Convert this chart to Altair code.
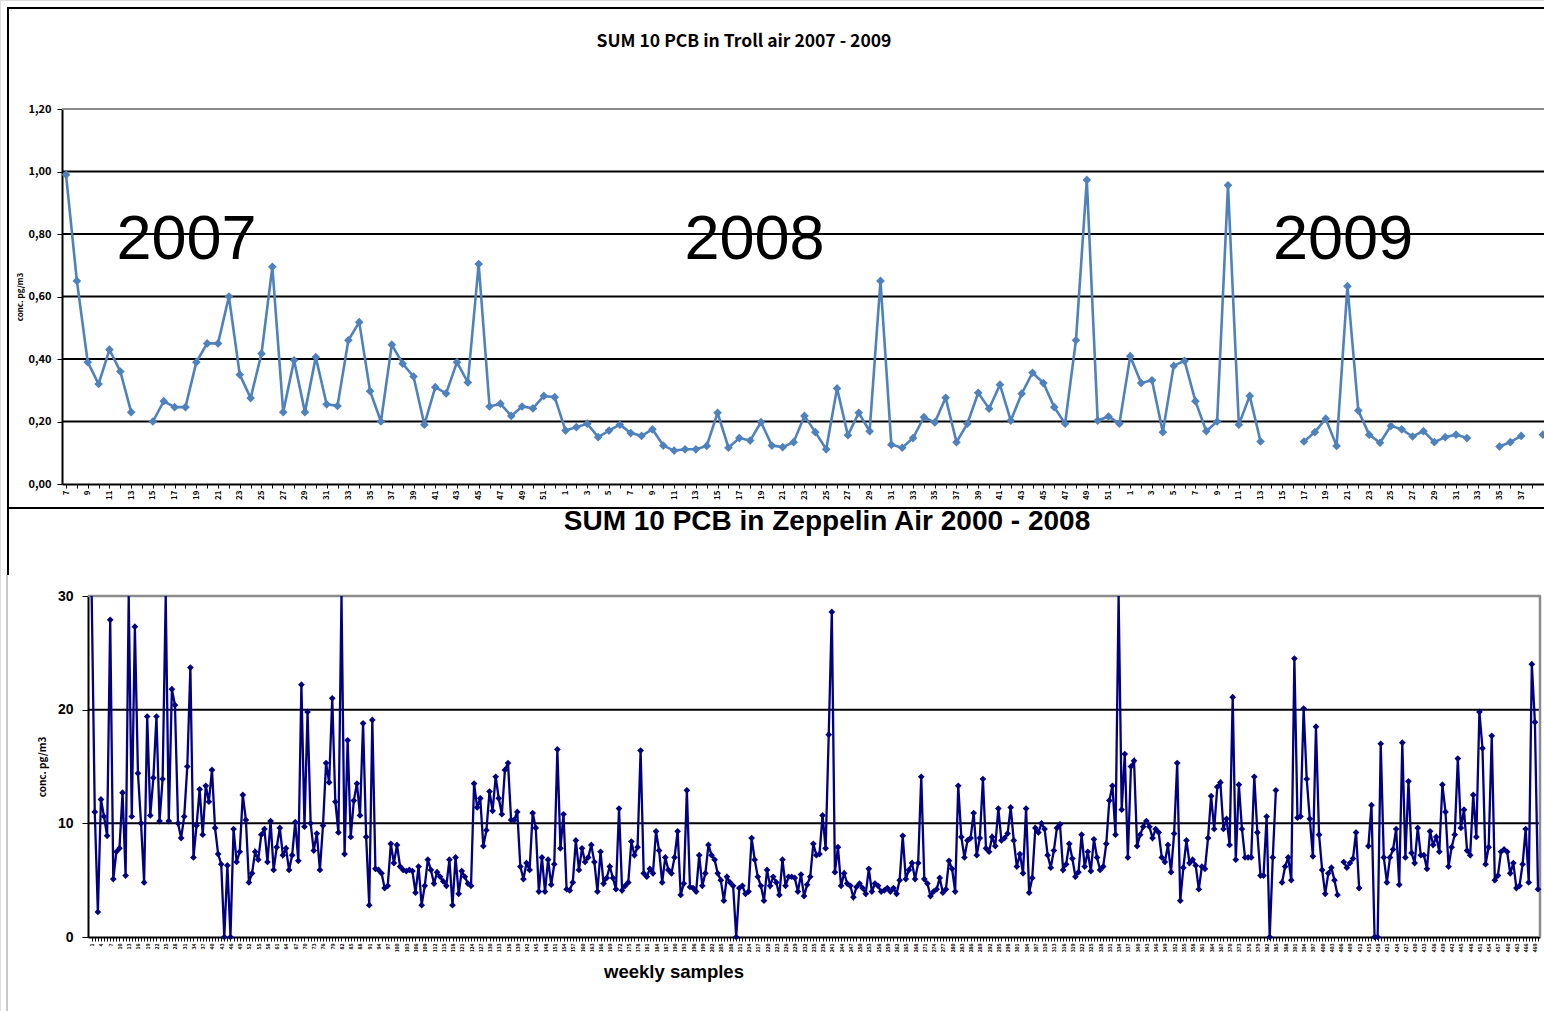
import altair as alt
import pandas as pd

W, H = 1544, 1011
NARROW = "'Noto Sans CJK SC', 'Liberation Sans', sans-serif"
SANS = "'Liberation Sans', Arial, sans-serif"
BLUE = "#4F81BD"
NAVY = "#000080"

# ---------------- texts ----------------
troll_title = "SUM 10 PCB in Troll air 2007 - 2009"
zeppelin_title = "SUM 10 PCB in Zeppelin Air 2000 - 2008"
y_title = "conc. pg/m3"
zeppelin_x_title = "weekly samples"

# ---------------- Troll 2007 - 2009 ----------------
troll_weeks = list(range(7, 53)) + list(range(1, 53)) + list(range(1, 40))
troll_2007 = [0.99, 0.65, 0.39, 0.32, 0.43, 0.36, 0.23, None, 0.20, 0.265, 0.246, 0.246, 0.39,
              0.45, 0.45, 0.60, 0.35, 0.275, 0.417, 0.695, 0.23, 0.396, 0.23, 0.406, 0.255, 0.25,
              0.46, 0.518, 0.297, 0.20, 0.446, 0.385, 0.344, 0.19, 0.31, 0.29, 0.39, 0.325, 0.704,
              0.248, 0.257, 0.218, 0.248, 0.242, 0.282, 0.278]
troll_2008 = [0.171, 0.182, 0.193, 0.15, 0.171, 0.19, 0.163, 0.154, 0.175, 0.123, 0.107, 0.111,
              0.111, 0.122, 0.228, 0.116, 0.147, 0.139, 0.198, 0.123, 0.118, 0.134, 0.218, 0.166,
              0.111, 0.306, 0.156, 0.228, 0.169, 0.65, 0.126, 0.116, 0.147, 0.214, 0.197, 0.276,
              0.134, 0.193, 0.292, 0.241, 0.318, 0.203, 0.289, 0.356, 0.323, 0.246, 0.193, 0.46,
              0.973, 0.203, 0.216, 0.193]
troll_2009 = [0.409, 0.323, 0.332, 0.166, 0.378, 0.394, 0.265, 0.169, 0.20, 0.956, 0.19, 0.282,
              0.136, None, None, None, 0.136, 0.166, 0.209, 0.122, 0.633, 0.235, 0.158, 0.132,
              0.186, 0.175, 0.152, 0.169, 0.134, 0.15, 0.158, 0.147, None, None, 0.12, 0.134,
              0.154, None, 0.158]
troll_values = troll_2007 + troll_2008 + troll_2009
troll_years = ["2007", "2008", "2009"]
troll_year_pos = [12.1, 64.4, 118.6]
troll_year_val = [0.78, 0.78, 0.78]
troll_grid = [0.2, 0.4, 0.6, 0.8, 1.0]
troll_ticks = [0.0, 0.2, 0.4, 0.6, 0.8, 1.0, 1.2]

# ---------------- Zeppelin 2000 - 2008 ----------------
zep_a = [36, 11.0, 2.2, 12.1, 10.6, 8.9, 27.9, 5.1, 7.5, 7.8, 12.7, 5.4, 34, 10.6, 27.3, 14.4,
         10.0, 4.8, 19.4, 10.7, 14.0, 19.4, 10.2, 13.9, 33, 10.2, 21.8, 20.4, 10.0, 8.7, 10.6,
         15.0, 23.7, 7.0, 9.8, 13.0, 9.0, 13.3, 11.9, 14.7, 9.6, 7.3, 6.4, 0, 6.3, 0, 9.5, 6.6,
         7.5, 12.5, 10.3, 4.8, 5.6, 7.5, 6.8, 9.0, 9.5, 6.6, 10.2, 5.9, 7.9, 9.6, 7.2, 7.8, 5.9,
         7.2, 10.1, 6.7, 22.2, 9.7, 19.8, 10.0, 7.6, 9.1, 5.9, 9.8, 15.3, 13.6, 21.0]
zep_b = [11.9, 9.2, 35, 7.3, 17.3, 8.8, 12.0, 13.5, 10.7, 18.8, 8.8, 2.8, 19.1, 6.0, 5.9, 5.6,
         4.3, 4.5, 8.2, 6.5, 8.1, 6.2, 5.9, 5.8, 5.9, 5.8, 3.9, 6.2, 2.8, 4.5, 6.8, 5.9, 4.7, 5.7,
         5.3, 4.9, 4.5, 6.8, 2.8, 7.0, 3.8, 5.8, 5.3, 4.7, 4.5, 13.5, 11.4, 12.2, 8.0, 9.4, 12.8,
         11.1, 14.1, 12.2, 10.8, 14.7, 15.3, 10.3, 10.3, 11.0, 6.2, 5.1, 6.5, 5.9, 10.9, 9.6, 4.0,
         7.0, 4.0, 6.8, 4.6, 6.4, 16.5, 7.8, 10.8, 4.2, 4.1, 4.8]
zep_c = [8.5, 5.9, 7.8, 6.6, 7.0, 8.1, 6.6, 4.0, 7.5, 4.7, 5.2, 6.2, 5.2, 4.2, 11.3, 4.1, 4.5,
         4.8, 8.4, 7.2, 7.9, 16.4, 5.6, 5.3, 6.0, 5.6, 9.3, 7.6, 4.8, 7.0, 5.9, 5.6, 7.0, 9.3, 3.7,
         4.7, 12.9, 4.4, 4.3, 4.0, 7.2, 4.5, 5.6, 8.1, 7.2, 6.8, 5.6, 5.0, 3.2, 5.3, 4.8, 4.5, 0,
         4.3, 4.5, 3.8, 4.0, 8.7, 6.8, 5.3, 4.5, 3.2, 5.9, 4.5, 5.3, 4.8, 3.7, 6.8, 4.5, 5.3, 5.3,
         5.2, 4.0, 5.5, 3.6, 4.6, 5.3, 8.2]
zep_d = [7.2, 7.3, 10.7, 7.8, 17.8, 28.6, 5.7, 7.9, 4.5, 5.6, 4.7, 4.5, 3.5, 4.4, 4.7, 4.3, 3.8,
         6.0, 4.0, 4.7, 4.5, 4.0, 4.1, 4.3, 4.0, 4.3, 3.8, 5.0, 8.9, 5.1, 5.9, 6.5, 5.1, 6.5, 14.1,
         5.1, 4.7, 3.6, 4.0, 4.2, 5.2, 3.9, 4.2, 6.7, 6.0, 4.0, 13.3, 8.8, 7.0, 8.5, 8.7, 10.9,
         7.2, 8.7, 13.9, 7.8, 7.5, 8.8, 8.0, 11.3, 8.5, 8.7, 9.1, 11.4, 8.5, 6.2, 7.3, 5.6, 11.3,
         3.9, 5.2, 9.6, 9.2, 10.0, 9.5, 7.2, 6.1, 7.6]
zep_e = [9.6, 9.9, 5.9, 6.4, 8.2, 6.9, 5.3, 5.7, 9.0, 6.2, 7.5, 5.8, 8.6, 7.0, 5.9, 6.2, 8.2,
         12.0, 13.3, 9.0, 38, 11.2, 16.1, 7.0, 15.0, 15.5, 8.0, 9.0, 9.7, 10.2, 9.7, 8.7, 9.5, 9.2,
         7.0, 6.6, 8.1, 5.7, 9.1, 15.3, 3.2, 6.1, 8.5, 6.5, 6.8, 6.3, 4.2, 6.2, 6.0, 8.7, 12.4,
         9.5, 13.2, 13.6, 9.5, 10.4, 8.1, 21.1, 6.8, 13.4, 9.5, 7.0, 7.0, 7.0, 14.1, 9.2, 5.4,
         5.4, 10.6, 0, 7.0, 12.9, None]
zep_f = [4.8, 6.2, 7.0, 5.0, 24.5, 10.5, 10.6, 20.1, 13.9, 10.4, 7.1, 18.5, 9.0, 5.9, 3.8, 5.6,
         6.1, 5.0, 3.7, None, 6.6, 6.1, 6.5, 6.9, 9.2, 4.3, None, None, 8.0, 11.6, 0, 0, 17.0,
         7.0, 4.8, 7.0, 7.7, 9.5, 4.6, 17.1, 7.0, 13.7, 7.4, 6.5, 9.6, 7.2, 7.2, 6.0, 9.3, 8.1,
         8.8, 7.5, 13.4, 11.0, 6.2, 7.9, 9.0, 15.7, 9.6, 11.2, 7.6, 7.2, 12.5, 8.8, 19.8, 16.6,
         6.4, 7.9, 17.7, 5.0, 5.4, 7.5, 7.7, 7.5, 5.6, 6.5, 4.3, 4.5, 6.4, 9.5, 4.8, 24.0, 18.9,
         4.2]
zeppelin_values = zep_a + zep_b + zep_c + zep_d + zep_e + zep_f
zeppelin_grid = [10, 20]
zeppelin_ticks = [0, 10, 20, 30]


def segments(values):
    cats, vals, segs = [], [], []
    seg, gap = 0, False
    for i, v in enumerate(values, start=1):
        if v is None:
            gap = True
            continue
        if gap:
            seg += 1
            gap = False
        cats.append(i)
        vals.append(v)
        segs.append(seg)
    return pd.DataFrame({"cat": cats, "value": vals, "seg": segs})


def one_row():
    return pd.DataFrame({"k": [0]})


def text_mark(txt, x, y, size, font, weight="bold"):
    return alt.Chart(pd.DataFrame({"t": [txt]})).mark_text(
        font=font, fontSize=size, fontWeight=weight, color="black",
        align="center", baseline="middle"
    ).encode(x=alt.value(x), y=alt.value(y), text="t:N")


def hrule(x1, x2, y, color="black", w=2):
    return alt.Chart(one_row()).mark_rule(color=color, strokeWidth=w).encode(
        x=alt.value(x1), x2=alt.value(x2), y=alt.value(y))


def vrule(x, y1, y2, color="black", w=2):
    return alt.Chart(one_row()).mark_rule(color=color, strokeWidth=w).encode(
        x=alt.value(x), y=alt.value(y1), y2=alt.value(y2))


# ================= top chart =================
n_t = len(troll_values)
TX = alt.Scale(domain=[0.63, 137.1], range=[62, 1544])
TY = alt.Scale(domain=[0, 1.2], range=[484, 109])
troll_df = segments(troll_values)
week_arr = "[" + ",".join(str(w) for w in troll_weeks) + "]"

top_x_axis = alt.Axis(
    orient="bottom", offset=484 - H, values=list(range(1, n_t)),
    labelExpr=f"datum.value % 2 == 1 && datum.value < 136 ? '' + {week_arr}[datum.value - 1] : ''",
    labelAngle=270, labelFont=NARROW, labelFontSize=8, labelFontWeight="bold",
    labelColor="black", labelPadding=2, labelFlush=False, labelOverlap=False,
    tickColor="black", tickSize=4, tickWidth=1, domainColor="black", domainWidth=2,
    grid=False, title=None)
top_y_axis = alt.Axis(
    orient="left", offset=-62, values=troll_ticks,
    labelExpr="replace(format(datum.value, '.2f'), '.', ',')",
    labelFont=NARROW, labelFontSize=11, labelFontWeight="bold", labelColor="black",
    labelPadding=6, tickColor="black", tickSize=5, tickWidth=1, domainColor="black",
    domainWidth=2, grid=False, labelFlush=False, title=y_title, titleFont=NARROW,
    titleFontSize=8, titleFontWeight="bold", titleColor="black", titlePadding=3)

t_grid = alt.Chart(pd.DataFrame({"g": troll_grid})).mark_rule(color="black", strokeWidth=2).encode(
    y=alt.Y("g:Q", scale=TY, axis=None), x=alt.value(62), x2=alt.value(1544))
t_top = alt.Chart(pd.DataFrame({"g": [1.2]})).mark_rule(color="#8c8c8c", strokeWidth=2).encode(
    y=alt.Y("g:Q", scale=TY, axis=None), x=alt.value(62), x2=alt.value(1544))
t_line = alt.Chart(troll_df).mark_line(color=BLUE, strokeWidth=2.6).encode(
    x=alt.X("cat:Q", scale=TX, axis=top_x_axis),
    y=alt.Y("value:Q", scale=TY, axis=top_y_axis),
    detail="seg:N")
t_pts = alt.Chart(troll_df).mark_point(shape="diamond", filled=True, size=75, color=BLUE, opacity=1).encode(
    x=alt.X("cat:Q", scale=TX, axis=None), y=alt.Y("value:Q", scale=TY, axis=None))
t_years = alt.Chart(pd.DataFrame({"year": troll_years, "pos": troll_year_pos, "val": troll_year_val})).mark_text(
    font=SANS, fontSize=63, color="black", align="center", baseline="middle").encode(
    x=alt.X("pos:Q", scale=TX, axis=None), y=alt.Y("val:Q", scale=TY, axis=None), text="year:N")

# ================= bottom chart =================
n_z = len(zeppelin_values)
sp = (1538 - 91.7) / (n_z - 1)
BX = alt.Scale(domain=[1 - (91.7 - 88) / sp, n_z + (1540 - 1538) / sp], range=[88, 1540])
BY = alt.Scale(domain=[0, 30], range=[937, 596], clamp=True)
zep_df = segments(zeppelin_values)
zep_pts_df = zep_df[zep_df["value"] <= 30]

bot_x_axis = alt.Axis(
    orient="bottom", offset=937 - H, values=list(range(1, n_z + 1)),
    labelExpr="datum.value % 3 == 1 ? '' + datum.value : ''",
    labelAngle=270, labelFont=NARROW, labelFontSize=5, labelFontWeight="bold",
    labelColor="black", labelPadding=2, labelFlush=False, labelOverlap=False,
    tickColor="black", tickSize=4, tickWidth=1, domainColor="black", domainWidth=2,
    grid=False, title=None)
bot_y_axis = alt.Axis(
    orient="left", offset=-88, values=zeppelin_ticks,
    labelFont=SANS, labelFontSize=14, labelFontWeight="bold", labelColor="black",
    labelPadding=9, tickColor="black", tickSize=6, tickWidth=1, domainColor="black",
    domainWidth=2, grid=False, labelFlush=False, title=y_title, titleFont=NARROW,
    titleFontSize=10, titleFontWeight="bold", titleColor="black", titlePadding=10)

b_grid = alt.Chart(pd.DataFrame({"g": zeppelin_grid})).mark_rule(color="black", strokeWidth=2).encode(
    y=alt.Y("g:Q", scale=BY, axis=None), x=alt.value(88), x2=alt.value(1540))
b_top = alt.Chart(pd.DataFrame({"g": [30]})).mark_rule(color="#8c8c8c", strokeWidth=2.5).encode(
    y=alt.Y("g:Q", scale=BY, axis=None), x=alt.value(88), x2=alt.value(1541))
b_right = alt.Chart(pd.DataFrame({"g": [30]})).mark_rule(color="#8c8c8c", strokeWidth=2.5).encode(
    y=alt.Y("g:Q", scale=BY, axis=None), y2=alt.value(937), x=alt.value(1540))
b_line = alt.Chart(zep_df).mark_line(color=NAVY, strokeWidth=2.3).encode(
    x=alt.X("cat:Q", scale=BX, axis=bot_x_axis),
    y=alt.Y("value:Q", scale=BY, axis=bot_y_axis),
    detail="seg:N")
b_pts = alt.Chart(zep_pts_df).mark_point(shape="diamond", filled=True, size=45, color=NAVY, opacity=1).encode(
    x=alt.X("cat:Q", scale=BX, axis=None), y=alt.Y("value:Q", scale=BY, axis=None))

# ================= frames & titles =================
frames = [
    hrule(7, 1544, 8), vrule(8, 8, 508), hrule(7, 1544, 508),
    vrule(8, 508, 575), vrule(7, 575, 1011, color="#c8c8c8", w=2),
]
titles = [
    text_mark(troll_title, 744, 42, 17.5, NARROW),
    text_mark(zeppelin_title, 827, 522, 28, SANS),
    text_mark(zeppelin_x_title, 674, 972, 18.5, SANS),
]

chart = alt.layer(
    *frames,
    t_grid, t_top, t_line, t_pts, t_years,
    b_grid, b_top, b_right, b_line, b_pts,
    *titles,
).resolve_scale(
    x="independent", y="independent"
).resolve_axis(
    x="independent", y="independent"
).properties(
    width=W, height=H, autosize=alt.AutoSizeParams(type="none"), padding=0
).configure_view(stroke=None).configure(background="white")

chart.save("out.html", embed_options={"renderer": "svg", "actions": False})
